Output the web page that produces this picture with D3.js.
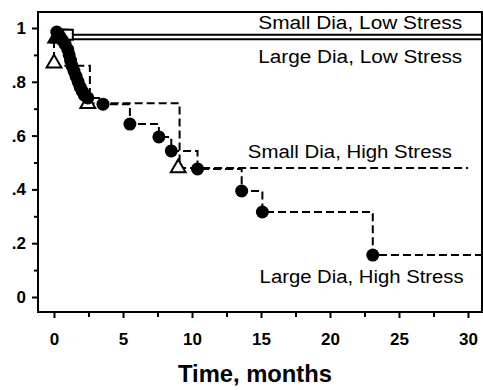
<!DOCTYPE html>
<html lang="en">
<head>
  <meta charset="UTF-8" />
  <title>Survival by diameter and stress</title>
  <style>
    body { margin: 0; background: #fff; }
    svg text { font-family: "Liberation Sans", Arial, Helvetica, sans-serif; fill: #000; }
    .tick text { font-weight: bold; font-size: 17px; }
  </style>
</head>
<body>
  <svg id="chart" width="483" height="390"></svg>

  <script src="https://d3js.org/d3.v7.min.js"></script>
  <script>
    // Small Dia, Low Stress (open squares, solid)
    const smallLowT = [0, 0.3, 31];
    const smallLowS = [1, 0.975, 0.975];
    const smallLowMarkT = [0.4, 0.7, 1.0];
    const smallLowMarkS = [0.975, 0.975, 0.975];

    // Large Dia, Low Stress (filled triangles, solid)
    const largeLowT = [0, 0.2, 31];
    const largeLowS = [1, 0.958, 0.958];
    const largeLowMarkT = [0, 0.25];
    const largeLowMarkS = [0.958, 0.958];

    // Small Dia, High Stress (open triangles, dashed)
    const smallHighT = [0, 0, 2.6, 9.1, 30];
    const smallHighS = [1, 0.86, 0.72, 0.48, 0.48];
    const smallHighMarkT = [0, 2.45, 9.0];
    const smallHighMarkS = [0.865, 0.715, 0.476];

    // Large Dia, High Stress (filled circles, dashed)
    const largeHighT = [0, 0.2, 0.4, 0.6, 0.8, 1.0, 1.1, 1.2, 1.3, 1.45, 1.6, 1.75, 1.9, 2.05, 2.2, 2.45, 3.55, 5.5, 7.6, 8.5, 10.4, 13.6, 15.1, 23.1, 31];
    const largeHighS = [1, 0.985, 0.97, 0.955, 0.94, 0.92, 0.9, 0.88, 0.86, 0.84, 0.82, 0.8, 0.78, 0.765, 0.75, 0.74, 0.717, 0.643, 0.595, 0.543, 0.476, 0.394, 0.316, 0.156, 0.156];

    const xTicks = [0, 5, 10, 15, 20, 25, 30];
    const xMinor = [2.5, 7.5, 12.5, 17.5, 22.5, 27.5];
    const yTicks = [0, 0.2, 0.4, 0.6, 0.8, 1];
    const yMinor = [0.1, 0.3, 0.5, 0.7, 0.9];

    // label anchor: left edge (months) and baseline (survival)
    const labels = [
      { text: "Small Dia, Low Stress", t: 14.8, s: 0.996 },
      { text: "Large Dia, Low Stress", t: 14.8, s: 0.87 },
      { text: "Small Dia, High Stress", t: 14.05, s: 0.517 },
      { text: "Large Dia, High Stress", t: 14.9, s: 0.052 }
    ];

    const svg = d3.select("#chart");
    const frame = { left: 38, top: 12, right: 482, bottom: 312 };

    const x = d3.scaleLinear().domain([0, 30]).range([54, 468]);
    const y = d3.scaleLinear().domain([0, 1]).range([297, 28]);

    // Frame
    svg.append("rect")
      .attr("x", frame.left).attr("y", frame.top)
      .attr("width", frame.right - frame.left)
      .attr("height", frame.bottom - frame.top)
      .attr("fill", "none").attr("stroke", "#000").attr("stroke-width", 2);

    // X axis
    svg.append("g").attr("transform", `translate(0,${frame.bottom})`)
      .call(d3.axisBottom(x).tickValues(xTicks).tickSize(6).tickPadding(15));
    svg.append("g").attr("transform", `translate(0,${frame.bottom})`)
      .call(d3.axisBottom(x).tickValues(xMinor).tickSize(5).tickFormat(""));

    // Y axis
    const fmtY = d => d === 0 ? "0" : d === 1 ? "1" : d3.format(".1f")(d).replace(/^0/, "");
    svg.append("g").attr("transform", `translate(${frame.left},0)`)
      .call(d3.axisLeft(y).tickValues(yTicks).tickSize(6).tickPadding(6).tickFormat(fmtY));
    svg.append("g").attr("transform", `translate(${frame.left},0)`)
      .call(d3.axisLeft(y).tickValues(yMinor).tickSize(4).tickFormat(""));

    svg.selectAll(".domain").remove();
    svg.selectAll(".tick line").attr("stroke", "#000").attr("stroke-width", 2);

    // X axis title
    svg.append("text")
      .attr("x", 255).attr("y", 382)
      .attr("text-anchor", "middle")
      .attr("font-size", 23).attr("font-weight", "bold")
      .attr("textLength", 154).attr("lengthAdjust", "spacingAndGlyphs")
      .text("Time, months");

    // Step lines
    const step = d3.line().x(d => x(d[0])).y(d => y(d[1])).curve(d3.curveStepAfter);
    const zip = (a, b) => a.map((v, i) => [v, b[i]]);

    function drawLine(t, s, dashed) {
      svg.append("path")
        .datum(zip(t, s))
        .attr("d", step)
        .attr("fill", "none")
        .attr("stroke", "#000")
        .attr("stroke-width", 2)
        .attr("stroke-dasharray", dashed ? "8,4" : null);
    }

    drawLine(smallLowT, smallLowS, false);
    drawLine(largeLowT, largeLowS, false);
    drawLine(smallHighT, smallHighS, true);
    drawLine(largeHighT, largeHighS, true);

    // Markers
    svg.selectAll(".sq")
      .data(zip(smallLowMarkT, smallLowMarkS))
      .enter().append("rect")
      .attr("x", d => x(d[0]) - 5).attr("y", d => y(d[1]) - 5)
      .attr("width", 10).attr("height", 10)
      .attr("fill", "#fff").attr("stroke", "#000").attr("stroke-width", 2);

    const tri = d3.symbol().type(d3.symbolTriangle).size(95);

    svg.selectAll(".tf")
      .data(zip(largeLowMarkT, largeLowMarkS))
      .enter().append("path")
      .attr("d", tri)
      .attr("transform", d => `translate(${x(d[0])},${y(d[1])})`)
      .attr("fill", "#000");

    svg.selectAll(".to")
      .data(zip(smallHighMarkT, smallHighMarkS))
      .enter().append("path")
      .attr("d", tri)
      .attr("transform", d => `translate(${x(d[0])},${y(d[1]) - 1})`)
      .attr("fill", "#fff").attr("stroke", "#000").attr("stroke-width", 2);

    const circ = zip(largeHighT, largeHighS).slice(1, -1);
    svg.selectAll(".c")
      .data(circ)
      .enter().append("circle")
      .attr("cx", d => x(d[0])).attr("cy", d => y(d[1]))
      .attr("r", 6.5).attr("fill", "#000");

    // Curve labels
    svg.selectAll(".lab")
      .data(labels)
      .enter().append("text")
      .attr("x", d => x(d.t))
      .attr("y", d => y(d.s))
      .attr("font-size", 18)
      .attr("textLength", 204)
      .attr("lengthAdjust", "spacingAndGlyphs")
      .text(d => d.text);
  </script>
</body>
</html>
